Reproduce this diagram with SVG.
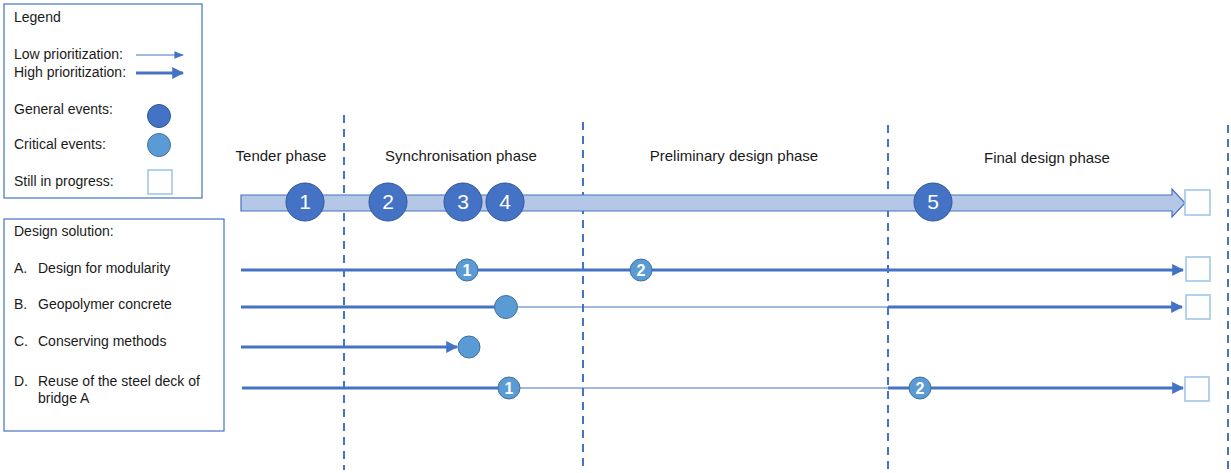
<svg xmlns="http://www.w3.org/2000/svg" width="1231" height="473" viewBox="0 0 1231 473">
<defs>
<style>
text{font-family:"Liberation Sans",Arial,sans-serif;fill:#1a1a1a}
.lg{font-size:14px}
.ph{font-size:15px;text-anchor:middle}
.box{fill:#fff;stroke:#4472C4;stroke-width:1.2}
.dash{stroke:#4472C4;stroke-width:2;stroke-dasharray:8 6;fill:none}
.thick{stroke:#4472C4;stroke-width:3;fill:none}
.thin{stroke:#4472C4;stroke-width:1.2;fill:none}
.gen{fill:#4472C4;stroke:#2F5597;stroke-width:1}
.crit{fill:#5B9BD5;stroke:#41719C;stroke-width:1}
.sq{fill:#fff;stroke:#9DC3E6;stroke-width:1.5}
.num{font-size:21px;fill:#fff;text-anchor:middle}
.snum{font-size:16px;fill:#fff;text-anchor:middle;font-weight:bold}
</style>
<marker id="ah" viewBox="0 0 10 10" refX="9" refY="5" markerWidth="4" markerHeight="4" orient="auto" markerUnits="strokeWidth"><path d="M0,0 L10,5 L0,10 z" fill="#4472C4"/></marker>
<marker id="ahs" viewBox="0 0 10 10" refX="9" refY="5" markerWidth="8" markerHeight="8" orient="auto" markerUnits="strokeWidth"><path d="M0,1 L10,5 L0,9 z" fill="#4472C4"/></marker>
</defs>
<g id="legend">
<rect class="box" x="4" y="4" width="198" height="194"/>
<text class="lg" x="14" y="22">Legend</text>
<text class="lg" x="14" y="59">Low prioritization:</text>
<line class="thin" x1="136" y1="55" x2="183" y2="55" marker-end="url(#ahs)"/>
<text class="lg" x="14" y="77">High prioritization:</text>
<line class="thick" x1="136" y1="73" x2="183" y2="73" marker-end="url(#ah)"/>
<text class="lg" x="14" y="114">General events:</text>
<circle class="gen" cx="159" cy="116" r="11.5"/>
<text class="lg" x="14" y="149">Critical events:</text>
<circle class="crit" cx="159" cy="145" r="11.5"/>
<text class="lg" x="14" y="186">Still in progress:</text>
<rect class="sq" x="148" y="170" width="24" height="24"/>
</g>
<g id="design-solution">
<rect class="box" x="4" y="219" width="220" height="212"/>
<text class="lg" x="14" y="236">Design solution:</text>
<text class="lg" x="14" y="273">A.</text><text class="lg" x="38" y="273">Design for modularity</text>
<text class="lg" x="14" y="309">B.</text><text class="lg" x="38" y="309">Geopolymer concrete</text>
<text class="lg" x="14" y="346">C.</text><text class="lg" x="38" y="346">Conserving methods</text>
<text class="lg" x="14" y="386">D.</text><text class="lg" x="38" y="386">Reuse of the steel deck of</text>
<text class="lg" x="38" y="403">bridge A</text>
</g>
<g id="phases">
<line class="dash" x1="344" y1="115" x2="344" y2="470"/>
<line class="dash" x1="583" y1="122" x2="583" y2="470"/>
<line class="dash" x1="888" y1="125" x2="888" y2="470"/>
<line class="dash" x1="1228" y1="125" x2="1228" y2="470"/>
<text class="ph" x="281" y="161">Tender phase</text>
<text class="ph" x="461" y="161">Synchronisation phase</text>
<text class="ph" x="734" y="161">Preliminary design phase</text>
<text class="ph" x="1047" y="163">Final design phase</text>
</g>
<g id="connectors">
<path d="M241,195 L1172,195 L1172,189 L1185,203 L1172,217 L1172,211 L241,211 Z" fill="#B4C7E7" stroke="#4472C4" stroke-width="1.2"/>
<line class="thick" x1="241" y1="270" x2="1183" y2="270" marker-end="url(#ah)"/>
<line class="thick" x1="241" y1="307" x2="500" y2="307"/>
<line class="thin" x1="510" y1="307" x2="888" y2="307"/>
<line class="thick" x1="888" y1="307" x2="1182" y2="307" marker-end="url(#ah)"/>
<line class="thick" x1="241" y1="347" x2="457" y2="347" marker-end="url(#ah)"/>
<line class="thick" x1="242" y1="388" x2="505" y2="388"/>
<line class="thin" x1="510" y1="388" x2="888" y2="388"/>
<line class="thick" x1="888" y1="388" x2="1183" y2="388" marker-end="url(#ah)"/>
</g>
<g id="main-events">
<circle class="gen" cx="305" cy="202" r="19"/><text class="num" x="305" y="209">1</text>
<circle class="gen" cx="388" cy="202" r="19"/><text class="num" x="388" y="209">2</text>
<circle class="gen" cx="463" cy="202" r="19"/><text class="num" x="463" y="209">3</text>
<circle class="gen" cx="505" cy="202" r="19"/><text class="num" x="505" y="209">4</text>
<circle class="gen" cx="933" cy="202" r="19"/><text class="num" x="933" y="209">5</text>
<rect class="sq" x="1185" y="190" width="25" height="25"/>
</g>
<g id="row-a">
<circle class="crit" cx="467" cy="270" r="11"/><text class="snum" x="467" y="276">1</text>
<circle class="crit" cx="641" cy="270" r="11"/><text class="snum" x="641" y="276">2</text>
<rect class="sq" x="1186" y="257" width="24" height="24"/>
</g>
<g id="row-b">
<circle class="crit" cx="506" cy="307" r="11.5"/>
<rect class="sq" x="1186" y="295" width="24" height="24"/>
</g>
<g id="row-c">
<circle class="crit" cx="469" cy="347" r="11"/>
</g>
<g id="row-d">
<circle class="crit" cx="509" cy="388" r="11"/><text class="snum" x="509" y="394">1</text>
<circle class="crit" cx="920" cy="388" r="11"/><text class="snum" x="920" y="394">2</text>
<rect class="sq" x="1185" y="377" width="24" height="24"/>
</g>
</svg>
